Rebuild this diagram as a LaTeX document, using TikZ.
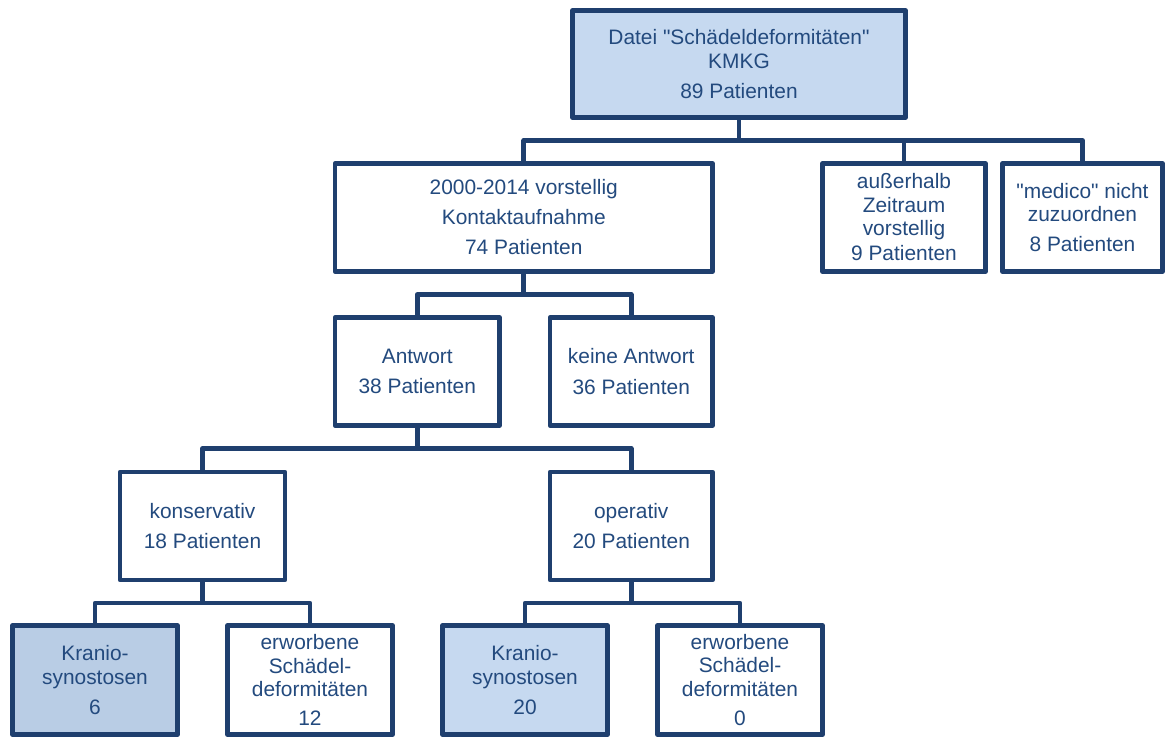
\documentclass[tikz,border=0pt]{standalone}
\usepackage{fontspec}
\setmainfont{Liberation Sans}
\newfontfamily\qfont{Liberation Sans}
\definecolor{navy}{HTML}{1F3F6E}
\definecolor{txt}{HTML}{234A7E}
\definecolor{fillA}{HTML}{C6D9F0}
\definecolor{fillB}{HTML}{B9CDE5}
\newcommand{\dq}{{\qfont\symbol{34}}}
\begin{document}
\begin{tikzpicture}[x=1pt,y=-1pt,
  box/.style={draw=navy, line width=4.6pt, line join=round, rectangle, inner sep=0pt, outer sep=0pt,
    align=center, text=txt, font=\fontsize{20.9}{23.5}\selectfont},
  conn/.style={draw=navy, line width=4.6pt, line join=round}]
\useasboundingbox (0,0) rectangle (1165,740);
\node[box, fill=fillA, minimum width=333pt, minimum height=107pt] (top) at (739,64)
  {Datei \dq Schädeldeformitäten\dq\\KMKG\\[6.5pt]89 Patienten};
\node[box, fill=white, minimum width=377.5pt, minimum height=108pt] (kon) at (523.75,217.5)
  {2000-2014 vorstellig\\[6.5pt]Kontaktaufnahme\\[6.5pt]74 Patienten};
\node[box, fill=white, minimum width=163pt, minimum height=108pt] (aus) at (904,217.5)
  {außerhalb\\Zeitraum\\vorstellig\\[1.5pt]9 Patienten};
\node[box, fill=white, minimum width=160pt, minimum height=108pt] (med) at (1082.5,217.5)
  {\dq medico\dq{} nicht\\zuzuordnen\\[6.5pt]8 Patienten};
\node[box, fill=white, minimum width=164.5pt, minimum height=108pt] (antw) at (417.25,371.5)
  {Antwort\\[7pt]38 Patienten};
\node[box, fill=white, minimum width=162.5pt, minimum height=108pt] (keine) at (631.25,371.5)
  {keine Antwort\\[7pt]36 Patienten};
\node[box, fill=white, minimum width=165pt, minimum height=108pt] (kons) at (202.5,526)
  {konservativ\\[7pt]18 Patienten};
\node[box, fill=white, minimum width=162.5pt, minimum height=108pt] (oper) at (631.25,526)
  {operativ\\[7pt]20 Patienten};
\node[box, fill=fillB, minimum width=165pt, minimum height=109pt] (kr1) at (95,680)
  {Kranio-\\synostosen\\[6.5pt]6};
\node[box, fill=white, minimum width=165pt, minimum height=109pt] (erw1) at (310,680)
  {erworbene\\Schädel-\\deformitäten\\[5.5pt]12};
\node[box, fill=fillA, minimum width=165pt, minimum height=109pt] (kr2) at (525,680)
  {Kranio-\\synostosen\\[6.5pt]20};
\node[box, fill=white, minimum width=165pt, minimum height=109pt] (erw2) at (740,680)
  {erworbene\\Schädel-\\deformitäten\\[5.5pt]0};
% connectors
\draw[conn] (top.south) -- ++(0,23.5);
\draw[conn] (kon.north) -- ++(0,-23) -| (med.north);
\draw[conn] (aus.north) -- ++(0,-23);
\draw[conn] (kon.south) -- ++(0,23);
\draw[conn] (antw.north) -- ++(0,-23) -| (keine.north);
\draw[conn] (antw.south) -- ++(0,24);
\draw[conn] (kons.north) -- ++(0,-23.5) -| (oper.north);
\draw[conn] (kons.south) -- ++(0,23.5);
\draw[conn] (kr1.north) -- ++(0,-22.5) -| (erw1.north);
\draw[conn] (oper.south) -- ++(0,23.5);
\draw[conn] (kr2.north) -- ++(0,-22.5) -| (erw2.north);
\end{tikzpicture}
\end{document}
